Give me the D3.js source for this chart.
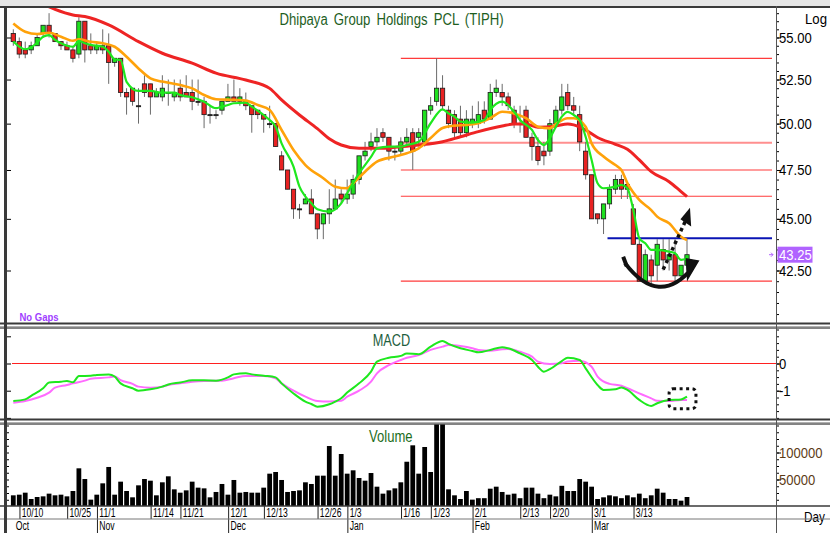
<!DOCTYPE html>
<html>
<head>
<meta charset="utf-8">
<script src="https://cdn.jsdelivr.net/npm/d3@7"></script>
<style>
  body { margin: 0; background: #fff; }
  svg { display: block; font-family: "Liberation Sans", Arial, sans-serif; }
</style>
</head>
<body>
<svg id="chart" width="830" height="533"></svg>
<script>
// ---- data (TIPH daily, Oct 2022 - Mar 2023) ----
const dates = ["10/7","10/10","10/11","10/12","10/17","10/18","10/19","10/20","10/21","10/25","10/26","10/27","10/28","10/31",
  "11/1","11/2","11/3","11/4","11/7","11/8","11/9","11/10","11/11","11/14","11/15","11/16","11/17","11/18","11/21","11/22","11/23","11/24","11/25","11/28","11/29","11/30",
  "12/1","12/2","12/6","12/7","12/8","12/9","12/13","12/14","12/15","12/16","12/19","12/20","12/21","12/22","12/23","12/26","12/27","12/28","12/29","12/30",
  "1/3","1/4","1/5","1/6","1/9","1/10","1/11","1/12","1/13","1/16","1/17","1/18","1/19","1/20","1/23","1/24","1/25","1/26","1/27","1/30","1/31",
  "2/1","2/2","2/3","2/6","2/7","2/8","2/9","2/10","2/13","2/14","2/15","2/16","2/17","2/20","2/21","2/22","2/23","2/24","2/27","2/28",
  "3/1","3/2","3/3","3/7","3/8","3/9","3/10","3/13","3/14","3/15","3/16","3/17","3/20","3/21","3/22","3/23","3/24"];

const opens = [55.25,54.75,54.25,54.25,54.5,55.25,55.75,55.25,54.75,54.5,54.25,54,56,54.5,54.25,54.5,54.5,53.5,53.75,51.75,
  52,51,52.25,52.25,51.5,51.5,51.75,51.5,52,51.75,51.75,51.25,51.25,50.5,50.5,50.75,51.25,51.5,51.25,51.25,
  51,50.75,50.5,50,50,48.25,47.5,46.5,45.5,45.75,46,45.25,44.75,45.25,45.5,46.25,46,46.25,47,48.25,
  48.75,49,49.5,49.25,48.5,48.5,49,49.5,49.25,49,50.75,51.25,52,50.75,50.5,50.25,49.5,50,50,50.75,
  50.25,51.75,51.75,51.5,50.75,50,50.75,49.25,48.75,48.5,48.5,50,50.75,51.75,51,50.5,48.5,47.25,45.25,45,
  45.75,46.5,47,46.75,45.5,43.75,42,43,42.75,43.5,43,43.25,42.25,42.75];
const highs = [55.5,55,54.75,54.75,55.25,55.75,56.5,55.25,54.75,54.75,54.5,56.25,56,55.25,54.75,55.5,55.25,53.75,53.75,52,
  52,52,52.75,52.25,52,52.75,52.5,52.5,52.5,52.75,52.5,52.5,51.5,51,50.75,51.25,52.25,52.5,52,51.75,
  51,50.75,50.5,51,50,48.5,47.5,46.5,45.75,46.25,46.5,45.25,45.25,46.5,47,46.5,47,47.25,48.25,49,
  49.5,49.75,49.75,49.25,48.75,49.25,49.75,49.75,49.75,50.75,51.5,53.75,52.75,51,50.75,51,50.75,51,51.25,51.25,
  52.25,52.5,52.25,51.75,51,51,51,49.5,49.25,49,50.25,51,52.25,52.25,51.5,51,49,47.25,45.25,45.75,
  46.75,47.25,47.25,46.75,45.75,44,43.5,43.25,44,44,44,44,42.75,44];
const lows = [54.5,53.75,53.75,54,54.5,55,55,54.75,54.25,54.25,53.5,53.75,53.5,54,54,54,52.25,53.25,51.5,50.5,
  51,50,51.5,50.5,51.5,51.25,51,51.25,51.25,51.5,50.75,51,49.75,50,50.25,50.5,51.25,51.25,51,50.75,
  49.5,50.25,49.5,49.75,48.75,47.5,46.5,45,45,45.75,45.25,44,44,44.75,45.5,45.75,45.75,46,46.75,48,
  48.5,48.75,49,48,48,48.25,48.75,47.5,48.75,48.75,50.5,51,50.75,49.75,49.25,49.25,49.25,49.75,49.75,50,
  50.25,51.5,51,50.75,49.75,49.5,49.25,48,47.75,47.75,48.25,49.75,50.5,50.75,50.5,48.5,47,45,44.75,44.25,
  45.5,46.25,46,46,43.75,42,42,41.75,42,42.5,42.5,42,42,42.5];
const closes = [54.75,54,54,54.5,55,55.75,55.25,54.75,54.5,54.25,53.75,56,54.25,54.25,54.5,54.25,53.5,53.75,51.75,51.5,
  51.25,51,51.75,51.5,51.75,52,51.75,51.75,51.5,51.5,51.25,51.25,50.5,50.5,50.5,51.25,51.5,51.25,51.5,51,
  50.5,50.5,50.25,50,48.75,47.5,46.5,45.5,45.5,46,45.25,44.5,45.25,45.5,46,46,46.25,47,48.25,48.5,
  49,49.25,49.25,48.5,48.5,49,49.25,48.5,49.5,50.75,51,52,51,50,49.5,49.5,50.25,50.25,50.5,50.25,
  51.75,52,51.5,51,50,50,49.25,48.75,48,48.25,50,50.75,51.5,51,50.75,49,47.25,45,45,45.75,
  46.5,47,46.5,46.5,43.75,42,43.25,42.25,43.75,43,43.25,42.25,42.75,43.25];
const volumes = [20700,21900,25600,13900,17600,18800,23800,20700,21900,18800,28700,70700,50900,12700,21900,42900,73200,21900,46000,28700,
  17000,39200,50900,47800,20700,44800,55900,31800,25600,29900,46000,34900,33600,17000,26900,41700,21900,49100,25600,26900,
  25600,25600,34900,60800,63900,49100,26900,28700,29900,44800,41700,57100,57100,112000,57100,97200,60800,67000,52800,47800,
  62000,36700,23800,29900,33600,44800,82900,113300,60800,110200,63900,180000,170000,31800,20700,13900,28700,12700,15400,15400,
  33000,36700,26900,21900,23800,15400,34900,34900,23800,15400,21900,18800,38300,28700,28700,50900,46000,36700,13900,17000,
  20700,18800,15400,20700,17000,23800,15400,20700,33000,25600,13900,13900,10800,17600];

// moving averages: [day index, value]
const maFast = [[0,54.76],[2,54.29],[3,54.41],[4,54.69],[5,55.05],[6,55.15],[7,54.85],[8,54.65],[10,54.44],[11,54.8],[12,54.65],[13,54.55],
  [15,54.44],[16,54.14],[17,53.69],[18,53.65],[19,52.37],[21,51.84],[23,51.84],[25,51.74],[27,51.74],[28,51.61],[30,51.48],[32,51.23],
  [34,50.86],[35,50.95],[36,51.04],[37,51.14],[39,51.17],[40,50.95],[42,50.48],[43,50.2],[44,49.83],[45,48.92],[47,47.68],[48,46.63],
  [49,46.12],[50,45.78],[51,45.48],[53,45.36],[54,45.48],[55,45.78],[56,46.29],[58,47.33],[60,48.19],[61,48.65],[63,48.74],[65,48.74],
  [66,48.83],[68,49.01],[70,50.02],[72,50.8],[73,50.57],[74,50.39],[75,50.11],[77,50.06],[79,50.2],[80,50.76],[82,51.23],[83,51.04],
  [84,50.66],[85,50.2],[87,49.65],[88,49.1],[89,48.83],[90,49.2],[91,49.83],[92,50.39],[93,50.66],[94,50.48],[95,50.2],[96,49.28],
  [97,48.03],[98,46.81],[99,46.55],[101,46.63],[102,46.72],[103,46.55],[104,45.44],[105,44.04],[106,43.8],[107,43.48],[108,43.48],
  [110,43.4],[111,43.32],[112,43.0],[113,43.08]];
const maMid = [[0,55.86],[2,55.35],[4,55.21],[6,55.29],[8,55.05],[10,54.8],[11,54.89],[13,54.74],[15,54.65],[17,54.44],[19,53.84],
  [21,53.15],[23,52.57],[25,52.38],[28,52.18],[30,51.99],[32,51.61],[34,51.37],[37,51.33],[39,51.29],[41,51.04],[43,50.76],[45,49.65],
  [47,48.56],[49,47.76],[52,47.07],[54,46.63],[56,46.55],[57,46.81],[59,47.41],[61,47.94],[64,48.21],[66,48.39],[68,48.65],[70,49.21],
  [72,49.76],[74,49.89],[76,49.93],[78,50.02],[80,50.3],[82,50.66],[84,50.57],[86,50.3],[88,49.83],[90,49.74],[91,49.98],[93,50.3],
  [94,50.3],[96,49.83],[97,48.92],[99,48.21],[101,47.76],[102,47.5],[103,46.81],[105,45.95],[107,45.44],[108,45.11],[110,44.78],
  [112,44.12],[113,43.96]];
const maSlow = [[0,57.9],[4,57.25],[7,56.74],[10,56.39],[12,56.29],[16,55.77],[21,54.75],[25,54.05],[30,53.46],[34,52.87],[39,52.47],
  [43,51.99],[45,51.33],[48,50.48],[51,49.72],[53,49.17],[55,48.83],[58,48.65],[62,48.65],[65,48.74],[68,48.83],[72,49.01],[75,49.28],
  [78,49.56],[82,49.87],[84,49.98],[86,49.98],[88,49.8],[91,49.87],[93,49.98],[94,49.93],[96,49.65],[98,49.24],[101,48.87],[103,48.6],
  [105,48.03],[107,47.41],[110,46.89],[112,46.38],[113,46.12]];

const macdLine = [[0,-1.38],[2,-1.32],[3,-1.19],[5,-0.91],[6,-0.7],[8,-0.67],[9,-0.64],[10,-0.69],[11,-0.46],[13,-0.45],[14,-0.42],
  [16,-0.4],[17,-0.48],[18,-0.73],[20,-0.91],[21,-1.0],[23,-0.95],[25,-0.85],[26,-0.77],[28,-0.7],[30,-0.62],[32,-0.62],[34,-0.63],
  [36,-0.51],[37,-0.4],[39,-0.36],[40,-0.4],[42,-0.45],[44,-0.51],[45,-0.73],[47,-1.1],[49,-1.4],[50,-1.49],[51,-1.59],[53,-1.5],
  [54,-1.4],[55,-1.28],[56,-1.07],[58,-0.73],[60,-0.3],[61,0.07],[63,0.21],[65,0.28],[66,0.37],[68,0.34],[70,0.62],[72,0.83],
  [73,0.72],[75,0.56],[77,0.46],[78,0.41],[80,0.5],[82,0.6],[83,0.56],[85,0.37],[87,0.13],[88,-0.12],[89,-0.3],[90,-0.21],[92,0.09],
  [93,0.21],[95,0.13],[96,-0.18],[98,-0.79],[99,-0.97],[101,-0.95],[102,-0.88],[103,-0.97],[105,-1.34],[107,-1.56],[108,-1.46],
  [110,-1.34],[112,-1.32],[113,-1.22]];
const signalLine = [[0,-1.44],[2,-1.38],[4,-1.26],[6,-1.07],[7,-0.89],[9,-0.79],[10,-0.73],[12,-0.63],[13,-0.56],[16,-0.51],[17,-0.48],
  [18,-0.61],[20,-0.75],[21,-0.85],[23,-0.89],[25,-0.85],[26,-0.79],[28,-0.73],[30,-0.67],[32,-0.64],[35,-0.63],[37,-0.54],[39,-0.46],
  [42,-0.46],[44,-0.54],[45,-0.73],[47,-1.0],[49,-1.22],[51,-1.38],[53,-1.4],[55,-1.37],[56,-1.22],[58,-1.0],[60,-0.67],[61,-0.36],
  [63,-0.06],[65,0.13],[66,0.21],[68,0.31],[70,0.5],[72,0.62],[73,0.68],[75,0.64],[77,0.56],[78,0.5],[80,0.47],[82,0.52],[83,0.53],
  [85,0.43],[87,0.25],[88,0.07],[90,-0.02],[92,0.01],[93,0.07],[95,0.1],[97,-0.12],[98,-0.48],[100,-0.75],[102,-0.82],[103,-0.91],
  [105,-1.1],[107,-1.28],[108,-1.37],[110,-1.38],[112,-1.34],[113,-1.34]];

const fibLevels = [53.75, 48.96, 47.5, 46.14, 42.0];
const fibStart = "1/16";
const resistance = 44.05, resistanceStart = "3/7";
const lastPrice = 43.25;

const priceTicks = [42.5, 45, 47.5, 50, 52.5, 55];
const macdTicks = [0, -1];
const volTicks = [50000, 100000];
const dayTicks = ["10/10","10/25","11/1","11/14","11/21","12/1","12/13","12/26","1/3","1/16","1/23","2/1","2/13","2/20","3/1","3/13"];
const monthTicks = [["Oct","10/7"],["Nov","11/1"],["Dec","12/1"],["Jan","1/3"],["Feb","2/1"],["Mar","3/1"]];

// ---- layout ----
const W = 830, H = 533;
const plotL = 7, plotR = 776;
const pricePane = [8, 323], macdPane = [328, 419], volPane = [424, 506];

const svg = d3.select("#chart");

const x = d3.scalePoint().domain(dates).range([13.3, 687]);
const step = x.step();
const xi = i => x(dates[0]) + i * step;   // fractional day index -> px
const y = d3.scaleLog().domain([42.5, 55]).range([270.5, 37.5]);
const yM = d3.scaleLinear().domain([-1, 0]).range([390.7, 363.5]);
const yV = d3.scaleLinear().domain([0, 100000]).range([506.5, 452.5]);

function squeeze(sel, k) {
  sel.each(function () {
    const w = this.getComputedTextLength();
    d3.select(this).attr("textLength", w * k).attr("lengthAdjust", "spacingAndGlyphs");
  });
}

// background & frames
svg.append("rect").attr("width", W).attr("height", H).attr("fill", "#fff");
svg.append("rect").attr("width", W).attr("height", 6).attr("fill", "#e6e6e6");

const defs = svg.append("defs");
[["clipP", pricePane], ["clipM", macdPane], ["clipV", volPane]].forEach(([id, p]) => {
  defs.append("clipPath").attr("id", id).append("rect")
    .attr("x", plotL).attr("y", p[0]).attr("width", plotR - plotL).attr("height", p[1] - p[0]);
});

// ---- price pane ----
const gP = svg.append("g").attr("clip-path", "url(#clipP)");

// fibonacci lines
gP.selectAll(".fib").data(fibLevels).enter().append("line")
  .attr("x1", x(fibStart)).attr("x2", plotR - 4)
  .attr("y1", d => y(d)).attr("y2", d => y(d))
  .attr("stroke", (d, i) => i === 1 ? "#ff8f8f" : "#ff3b3b")
  .attr("stroke-width", (d, i) => i === 1 ? 2 : 1.2);

gP.append("line")
  .attr("x1", x(resistanceStart) - 2).attr("x2", plotR - 4)
  .attr("y1", y(resistance)).attr("y2", y(resistance))
  .attr("stroke", "#0a14b4").attr("stroke-width", 2);

// candles
const candles = dates.map((d, i) => ({ d, o: opens[i], h: highs[i], l: lows[i], c: closes[i] }));
const bw = step * 0.72;
const cg = gP.selectAll(".candle").data(candles).enter().append("g");
cg.append("line")
  .attr("x1", d => x(d.d)).attr("x2", d => x(d.d))
  .attr("y1", d => y(d.h)).attr("y2", d => y(d.l))
  .attr("stroke", "#6a6a6a").attr("stroke-width", 1);
cg.append("rect")
  .attr("x", d => x(d.d) - bw / 2).attr("width", bw)
  .attr("y", d => y(Math.max(d.o, d.c)))
  .attr("height", d => Math.max(1, Math.abs(y(d.o) - y(d.c))))
  .attr("fill", d => d.c > d.o ? "#1fe01f" : (d.c < d.o ? "#e82222" : "#222"))
  .attr("stroke", "#1a1a1a").attr("stroke-width", 0.8);

// moving averages
const maLine = d3.line().x(d => x(dates[d[0]])).y(d => y(d[1])).curve(d3.curveMonotoneX);
gP.append("path").attr("d", maLine(maSlow)).attr("fill", "none").attr("stroke", "#ee2424").attr("stroke-width", 3);
gP.append("path").attr("d", maLine(maMid)).attr("fill", "none").attr("stroke", "#ffa20a").attr("stroke-width", 2.6);
gP.append("path").attr("d", maLine(maFast)).attr("fill", "none").attr("stroke", "#1ee81e").attr("stroke-width", 2.2);

// annotation: rounding-bottom arrow
const smile = d3.path();
smile.moveTo(xi(102.6), y(42.85));
smile.quadraticCurveTo(xi(108.3), y(40.78), xi(113.9), y(42.62));
gP.append("path").attr("d", smile.toString()).attr("fill", "none").attr("stroke", "#111").attr("stroke-width", 4);
gP.append("path")
  .attr("d", `M${xi(114.9)},${y(42.95)} L${xi(113.1)},${y(42.1)} L${xi(112.9)},${y(43.05)} Z`)
  .attr("fill", "#111").attr("stroke", "#111").attr("stroke-width", 1.5);
gP.append("line")
  .attr("x1", xi(102.3)).attr("x2", xi(102.9)).attr("y1", y(43.15)).attr("y2", y(42.7))
  .attr("stroke", "#111").attr("stroke-width", 4);

// annotation: dotted breakout arrow
gP.append("line")
  .attr("x1", xi(109.0)).attr("y1", y(42.55)).attr("x2", xi(112.9)).attr("y2", y(45.0))
  .attr("stroke", "#111").attr("stroke-width", 3.5).attr("stroke-dasharray", "3.5,3.5");
gP.append("path")
  .attr("d", `M${xi(113.5)},${y(45.55)} L${xi(111.9)},${y(44.98)} L${xi(113.7)},${y(44.62)} Z`)
  .attr("fill", "#111");

// price axis
const pAxis = svg.append("g").attr("transform", `translate(${plotR},0)`);
pAxis.call(d3.axisRight(y).tickValues(d3.range(40.5, 57, 0.5)).tickSize(3).tickFormat(""));
pAxis.call(g => g.select(".domain").remove());
const pLab = svg.append("g").attr("transform", `translate(${plotR},0)`)
  .call(d3.axisRight(y).tickValues(priceTicks).tickSize(5).tickPadding(-2).tickFormat(d3.format(".2f")));
pLab.select(".domain").remove();
pLab.selectAll("text").attr("font-size", 15).attr("font-family", "Liberation Sans, Arial").attr("fill", "#000");
squeeze(pLab.selectAll("text"), 0.87);
const pLeft = svg.append("g").attr("transform", `translate(${plotL},0)`);
pLeft.call(d3.axisRight(y).tickValues(d3.range(40.5, 57, 0.5)).tickSize(2).tickFormat(""));
pLeft.call(d3.axisRight(y).tickValues(priceTicks).tickSize(4).tickFormat(""));
pLeft.selectAll(".domain").remove();

// last price tag
svg.append("rect").attr("x", 777.5).attr("y", y(lastPrice) - 8).attr("width", 35).attr("height", 16).attr("fill", "#b063ff");
const lp = svg.append("text").attr("x", 779).attr("y", y(lastPrice)).attr("dy", "0.36em")
  .attr("font-size", 15).attr("fill", "#fff").text(lastPrice.toFixed(2));
squeeze(lp, 0.87);
svg.append("path").attr("d", `M769,${y(lastPrice)} h4 m-2,-2 l2,2 l-2,2`).attr("stroke", "#b063ff").attr("fill", "none");

// titles
const title = svg.append("text").attr("x", 279.5).attr("y", 25).attr("font-size", 16).attr("fill", "#1e5e1e")
  .attr("word-spacing", "3px").text("Dhipaya Group Holdings PCL (TIPH)");
title.attr("textLength", 224).attr("lengthAdjust", "spacingAndGlyphs");
svg.append("text").attr("x", 805).attr("y", 23.5).attr("font-size", 14).attr("fill", "#000")
  .attr("textLength", 22).attr("lengthAdjust", "spacingAndGlyphs").text("Log");
svg.append("text").attr("x", 19.5).attr("y", 321).attr("font-size", 11).attr("font-weight", "bold")
  .attr("fill", "#a040ff").attr("textLength", 39).attr("lengthAdjust", "spacingAndGlyphs").text("No Gaps");

// ---- MACD pane ----
const gM = svg.append("g").attr("clip-path", "url(#clipM)");
gM.append("line").attr("x1", 12).attr("x2", plotR).attr("y1", yM(0)).attr("y2", yM(0))
  .attr("stroke", "#ff2020").attr("stroke-width", 1);
const mLine = d3.line().x(d => x(dates[d[0]])).y(d => yM(d[1])).curve(d3.curveMonotoneX);
gM.append("path").attr("d", mLine(signalLine)).attr("fill", "none").attr("stroke", "#ff6bff").attr("stroke-width", 2);
gM.append("path").attr("d", mLine(macdLine)).attr("fill", "none").attr("stroke", "#1ee81e").attr("stroke-width", 2);
gM.append("rect")
  .attr("x", xi(110)).attr("y", yM(-0.93)).attr("width", xi(114.5) - xi(110)).attr("height", yM(-1.66) - yM(-0.93))
  .attr("rx", 4).attr("fill", "none").attr("stroke", "#111").attr("stroke-width", 3).attr("stroke-dasharray", "3,3.5");
const mt = svg.append("text").attr("x", 372.7).attr("y", 346).attr("font-size", 17).attr("fill", "#1e5e3e").text("MACD");
mt.attr("textLength", 37.5).attr("lengthAdjust", "spacingAndGlyphs");

const mAxis = svg.append("g").attr("transform", `translate(${plotR},0)`);
mAxis.call(d3.axisRight(yM).tickValues(d3.range(-2, 1.5, 0.25)).tickSize(3).tickFormat(""));
mAxis.select(".domain").remove();
const mLab = svg.append("g").attr("transform", `translate(${plotR},0)`)
  .call(d3.axisRight(yM).tickValues(macdTicks).tickSize(5).tickPadding(-2).tickFormat(d3.format("d")));
mLab.select(".domain").remove();
mLab.selectAll("text").attr("font-size", 15).attr("fill", "#000").text(d => d < 0 ? "-1" : "0");
squeeze(mLab.selectAll("text"), 0.87);
const mLeft = svg.append("g").attr("transform", `translate(${plotL},0)`)
  .call(d3.axisRight(yM).tickValues(d3.range(-2, 1.5, 0.25)).tickSize(2).tickFormat(""));
mLeft.call(d3.axisRight(yM).tickValues([-2, -1, 0, 1]).tickSize(4).tickFormat(""));
mLeft.selectAll(".domain").remove();
mLeft.selectAll(".tick").filter(d => d < -2.04 || d > 1.3).remove();
mAxis.selectAll(".tick").filter(d => d < -2.04 || d > 1.3).remove();

// ---- volume pane ----
const gV = svg.append("g").attr("clip-path", "url(#clipV)");
const vw = step * 0.8;
gV.selectAll(".vol").data(volumes).enter().append("rect")
  .attr("x", (d, i) => x(dates[i]) - vw / 2).attr("width", vw)
  .attr("y", d => yV(d)).attr("height", d => yV(0) - yV(d))
  .attr("fill", "#000");
const vt = svg.append("text").attr("x", 369).attr("y", 441.5).attr("font-size", 17).attr("fill", "#1e6e1e").text("Volume");
vt.attr("textLength", 43.5).attr("lengthAdjust", "spacingAndGlyphs");

const vAxis = svg.append("g").attr("transform", `translate(${plotR},0)`);
vAxis.call(d3.axisRight(yV).tickValues(d3.range(12500, 154000, 12500)).tickSize(3).tickFormat(""));
vAxis.select(".domain").remove();
const vLab = svg.append("g").attr("transform", `translate(${plotR},0)`)
  .call(d3.axisRight(yV).tickValues(volTicks).tickSize(5).tickPadding(-2).tickFormat(d3.format("d")));
vLab.select(".domain").remove();
vLab.selectAll("text").attr("font-size", 15).attr("fill", "#5b3a14");
squeeze(vLab.selectAll("text"), 0.87);
const vLeft = svg.append("g").attr("transform", `translate(${plotL},0)`)
  .call(d3.axisRight(yV).tickValues(d3.range(12500, 154000, 12500)).tickSize(2).tickFormat(""));
vLeft.select(".domain").remove();

// ---- date axis ----
const dA = svg.append("g");
dA.selectAll(".dt").data(dayTicks).enter().append("line")
  .attr("x1", d => x(d) + 0.7).attr("x2", d => x(d) + 0.7).attr("y1", 506).attr("y2", 519)
  .attr("stroke", "#222");
const dl = dA.selectAll(".dl").data(dayTicks).enter().append("text")
  .attr("x", d => x(d) + 2.5).attr("y", 516.5).attr("font-size", 12).attr("fill", "#000").text(d => d);
squeeze(dl, 0.72);
dA.selectAll(".mt").data(monthTicks.slice(1)).enter().append("line")
  .attr("x1", d => x(d[1]) + 0.7).attr("x2", d => x(d[1]) + 0.7).attr("y1", 519).attr("y2", 533)
  .attr("stroke", "#222");
const ml = dA.selectAll(".ml").data(monthTicks).enter().append("text")
  .attr("x", d => x(d[1]) + 2.5).attr("y", 530).attr("font-size", 12).attr("fill", "#000").text(d => d[0]);
squeeze(ml, 0.72);
svg.append("text").attr("x", 804).attr("y", 521.5).attr("font-size", 14).attr("fill", "#000")
  .attr("textLength", 21).attr("lengthAdjust", "spacingAndGlyphs").text("Day");

// ---- frame lines ----
const fr = svg.append("g");
[[7, 2, "#3a3a3a"], [323.5, 2, "#3a3a3a"], [326.5, 1, "#b0b0b0"], [328, 1.5, "#5a5a5a"],
 [419.5, 2, "#3a3a3a"], [422.5, 1, "#b0b0b0"], [424, 1.5, "#5a5a5a"], [506, 1.5, "#3a3a3a"], [519, 1, "#777"]]
  .forEach(([yy, w, c]) => fr.append("line").attr("x1", 0).attr("x2", W).attr("y1", yy).attr("y2", yy)
    .attr("stroke", c).attr("stroke-width", w));
fr.append("line").attr("x1", 5.5).attr("x2", 5.5).attr("y1", 6).attr("y2", H).attr("stroke", "#3a3a3a").attr("stroke-width", 3);
fr.append("line").attr("x1", plotR + 0.5).attr("x2", plotR + 0.5).attr("y1", 6).attr("y2", H).attr("stroke", "#555").attr("stroke-width", 1);
</script>
</body>
</html>
